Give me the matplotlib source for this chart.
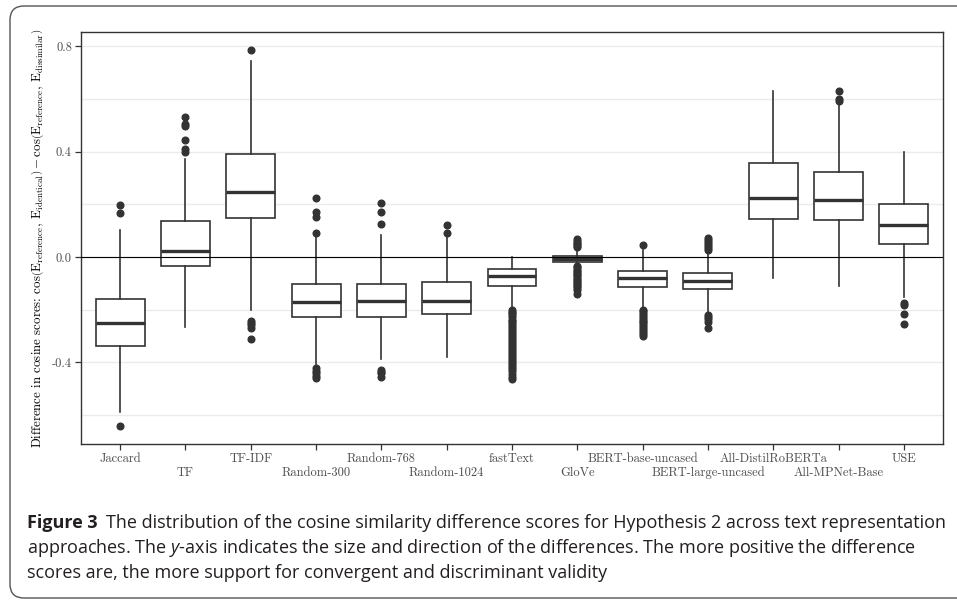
import matplotlib
matplotlib.use("Agg")
import matplotlib.pyplot as plt
from matplotlib.patches import FancyBboxPatch

plt.rcParams["font.family"] = "serif"
plt.rcParams["font.serif"] = ["cmr10"]
plt.rcParams["mathtext.fontset"] = "cm"
plt.rcParams["axes.unicode_minus"] = False
plt.rcParams["axes.formatter.use_mathtext"] = True

# ------------------------------------------------------------
# data
methods = ["Jaccard", "TF", "TF-IDF", "Random-300", "Random-768", "Random-1024",
           "fastText", "GloVe", "BERT-base-uncased", "BERT-large-uncased",
           "All-DistilRoBERTa", "All-MPNet-Base", "USE"]
q1 = [-0.338, -0.034, 0.147, -0.229, -0.229, -0.217, -0.110, -0.019, -0.113,
      -0.120, 0.144, 0.141, 0.049]
med = [-0.252, 0.024, 0.246, -0.172, -0.168, -0.166, -0.072, -0.006, -0.080,
       -0.090, 0.224, 0.217, 0.123]
q3 = [-0.160, 0.136, 0.390, -0.103, -0.103, -0.096, -0.044, 0.004, -0.052,
      -0.060, 0.357, 0.321, 0.202]
whislo = [-0.588, -0.267, -0.200, -0.407, -0.387, -0.381, -0.195, -0.030, -0.189,
          -0.208, -0.081, -0.110, -0.151]
whishi = [0.103, 0.374, 0.746, 0.092, 0.082, 0.077, 0.001, 0.030, 0.027,
          0.020, 0.629, 0.584, 0.400]
outliers = [
    [0.199, 0.168, -0.641],
    [0.533, 0.506, 0.498, 0.445, 0.410, 0.400],
    [0.787, -0.243, -0.252, -0.260, -0.271, -0.312],
    [0.225, 0.171, 0.151, 0.092, -0.423, -0.432, -0.442, -0.452, -0.461],
    [0.204, 0.171, 0.124, -0.430, -0.436, -0.442, -0.455],
    [0.120, 0.090],
    [-0.200, -0.208, -0.215, -0.222, -0.230, -0.238, -0.245, -0.252, -0.260,
     -0.268, -0.275, -0.283, -0.290, -0.298, -0.305, -0.313, -0.320, -0.328,
     -0.335, -0.343, -0.350, -0.358, -0.365, -0.373, -0.380, -0.388, -0.395,
     -0.403, -0.410, -0.418, -0.425, -0.435, -0.445, -0.455, -0.465],
    [0.067, 0.060, 0.054, 0.048, 0.042, 0.036, -0.034, -0.040, -0.046, -0.052,
     -0.058, -0.064, -0.070, -0.076, -0.082, -0.088, -0.094, -0.100, -0.106,
     -0.112, -0.118, -0.125, -0.141],
    [0.046, -0.200, -0.207, -0.214, -0.221, -0.228, -0.235, -0.242, -0.249,
     -0.256, -0.263, -0.270, -0.277, -0.284, -0.292, -0.300],
    [0.072, 0.065, 0.058, 0.050, 0.043, 0.035, 0.027, -0.220, -0.228, -0.236,
     -0.248, -0.271],
    [],
    [0.632, 0.600, 0.593],
    [-0.176, -0.183, -0.218, -0.256],
]

caption_bold = "Figure 3"
caption_lines = [
    "The distribution of the cosine similarity difference scores for Hypothesis 2 across text representation",
    "approaches. The $\\it{y}$-axis indicates the size and direction of the differences. The more positive the difference",
    "scores are, the more support for convergent and discriminant validity",
]

# ------------------------------------------------------------
fig = plt.figure(figsize=(9.57, 6.02), dpi=100)
ax = fig.add_axes([0.0846, 0.2625, 0.9008, 0.6843])

stats = []
for i, name in enumerate(methods):
    stats.append(dict(label=name, q1=q1[i], med=med[i], q3=q3[i],
                      whislo=whislo[i], whishi=whishi[i], fliers=outliers[i]))

dark = "#333333"
pos = list(range(1, len(methods) + 1))
ax.bxp(stats, positions=pos, widths=0.75,
       patch_artist=True, showcaps=False, manage_ticks=False,
       boxprops=dict(facecolor="white", edgecolor=dark, linewidth=1.2),
       medianprops=dict(color=dark, linewidth=2.4),
       whiskerprops=dict(color=dark, linewidth=1.2),
       flierprops=dict(marker="o", markerfacecolor=dark, markeredgecolor=dark,
                       markersize=4.8),
       zorder=2)

ax.axhline(0, color="black", linewidth=0.8, zorder=3)

ax.set_xlim(0.4, len(methods) + 0.6)
ax.set_ylim(-0.711, 0.855)
ax.set_yticks([-0.4, 0.0, 0.4, 0.8])
ax.set_yticklabels(["-0.4", "0.0", "0.4", "0.8"])
ax.set_yticks([-0.6, -0.2, 0.2, 0.6], minor=True)
ax.grid(axis="y", which="both", color="#EBEBEB", linewidth=1.0, zorder=0)
ax.set_axisbelow(True)

# dodge the x labels over two rows
ax.set_xticks(pos[0::2], methods[0::2])
ax.set_xticks(pos[1::2], methods[1::2], minor=True)

ax.tick_params(axis="both", which="major", length=4, width=0.9, color=dark,
               labelcolor="#4D4D4D", labelsize=9, pad=2.5)
ax.tick_params(axis="x", which="minor", length=4, width=0.9, color=dark,
               labelcolor="#4D4D4D", labelsize=9, pad=12.3)
ax.tick_params(axis="y", which="minor", length=0)
for sp in ax.spines.values():
    sp.set_color(dark)
    sp.set_linewidth(1.0)

ax.set_ylabel(r"Difference in cosine scores: $\cos\!\left(\mathrm{E}_{\mathrm{reference}},\,"
              r"\mathrm{E}_{\mathrm{identical}}\right)-\cos\!\left(\mathrm{E}_{\mathrm{reference}},\,"
              r"\mathrm{E}_{\mathrm{dissimilar}}\right)$",
              fontsize=9.3, color="black", labelpad=4)

# caption
plt.rcParams["mathtext.fontset"] = "custom"
plt.rcParams["mathtext.it"] = "Open Sans:italic"
cap_font = dict(family="Open Sans", fontsize=13.0, color="#231F20")
t0 = fig.text(27 / 957, 1 - 523 / 602, caption_bold, fontweight="bold",
              va="center", ha="left", **cap_font)
fig.canvas.draw()
bb = t0.get_window_extent()
fig.text((bb.x1 + 8) / 957, 1 - 523 / 602, caption_lines[0],
         va="center", ha="left", **cap_font)
fig.text(27 / 957, 1 - 548 / 602, caption_lines[1], va="center", ha="left", **cap_font)
fig.text(27 / 957, 1 - 573 / 602, caption_lines[2], va="center", ha="left", **cap_font)

# rounded frame around the figure
frame = FancyBboxPatch((0.10, 0.04), 10.0, 5.92,
                       boxstyle="round,pad=0,rounding_size=0.14",
                       transform=fig.dpi_scale_trans, facecolor="none",
                       edgecolor="#555555", linewidth=1.0, clip_on=False)
fig.patches.append(frame)

fig.savefig("out.png", dpi=100)
